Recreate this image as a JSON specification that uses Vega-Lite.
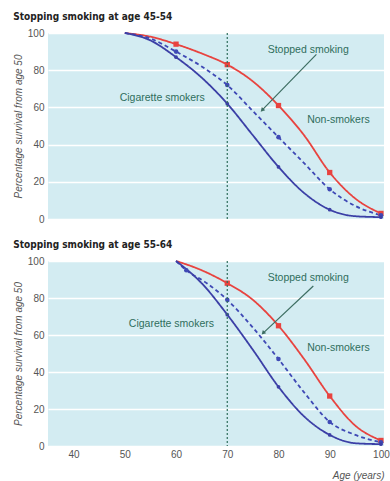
{
  "$schema": "https://vega.github.io/schema/vega-lite/v6.json",
  "padding": {"left": 13, "top": 12, "right": 4, "bottom": 2},
  "background": "white",
  "datasets": {
    "curves": [
      {"panel": "A", "series": "Non-smokers", "age": 50, "value": 100, "marker": false},
      {"panel": "A", "series": "Non-smokers", "age": 55, "value": 98, "marker": false},
      {"panel": "A", "series": "Non-smokers", "age": 60, "value": 94, "marker": true},
      {"panel": "A", "series": "Non-smokers", "age": 65, "value": 89, "marker": false},
      {"panel": "A", "series": "Non-smokers", "age": 70, "value": 83, "marker": true},
      {"panel": "A", "series": "Non-smokers", "age": 75, "value": 74, "marker": false},
      {"panel": "A", "series": "Non-smokers", "age": 80, "value": 61, "marker": true},
      {"panel": "A", "series": "Non-smokers", "age": 85, "value": 45, "marker": false},
      {"panel": "A", "series": "Non-smokers", "age": 90, "value": 25, "marker": true},
      {"panel": "A", "series": "Non-smokers", "age": 95, "value": 11, "marker": false},
      {"panel": "A", "series": "Non-smokers", "age": 100, "value": 3, "marker": true},
      {"panel": "A", "series": "Stopped smoking", "age": 50, "value": 100, "marker": false},
      {"panel": "A", "series": "Stopped smoking", "age": 55, "value": 97, "marker": false},
      {"panel": "A", "series": "Stopped smoking", "age": 60, "value": 90, "marker": true},
      {"panel": "A", "series": "Stopped smoking", "age": 65, "value": 82, "marker": false},
      {"panel": "A", "series": "Stopped smoking", "age": 70, "value": 72, "marker": true},
      {"panel": "A", "series": "Stopped smoking", "age": 75, "value": 58, "marker": false},
      {"panel": "A", "series": "Stopped smoking", "age": 80, "value": 44, "marker": true},
      {"panel": "A", "series": "Stopped smoking", "age": 85, "value": 30, "marker": false},
      {"panel": "A", "series": "Stopped smoking", "age": 90, "value": 16, "marker": true},
      {"panel": "A", "series": "Stopped smoking", "age": 95, "value": 7, "marker": false},
      {"panel": "A", "series": "Stopped smoking", "age": 100, "value": 2, "marker": true},
      {"panel": "A", "series": "Cigarette smokers", "age": 50, "value": 100, "marker": false},
      {"panel": "A", "series": "Cigarette smokers", "age": 55, "value": 96, "marker": false},
      {"panel": "A", "series": "Cigarette smokers", "age": 60, "value": 87, "marker": true},
      {"panel": "A", "series": "Cigarette smokers", "age": 65, "value": 76, "marker": false},
      {"panel": "A", "series": "Cigarette smokers", "age": 70, "value": 62, "marker": true},
      {"panel": "A", "series": "Cigarette smokers", "age": 75, "value": 45, "marker": false},
      {"panel": "A", "series": "Cigarette smokers", "age": 80, "value": 28, "marker": true},
      {"panel": "A", "series": "Cigarette smokers", "age": 85, "value": 14, "marker": false},
      {"panel": "A", "series": "Cigarette smokers", "age": 90, "value": 5, "marker": true},
      {"panel": "A", "series": "Cigarette smokers", "age": 95, "value": 1.5, "marker": false},
      {"panel": "A", "series": "Cigarette smokers", "age": 100, "value": 1, "marker": true},
      {"panel": "B", "series": "Non-smokers", "age": 60, "value": 100, "marker": false},
      {"panel": "B", "series": "Non-smokers", "age": 65, "value": 95, "marker": false},
      {"panel": "B", "series": "Non-smokers", "age": 70, "value": 88, "marker": true},
      {"panel": "B", "series": "Non-smokers", "age": 75, "value": 79, "marker": false},
      {"panel": "B", "series": "Non-smokers", "age": 80, "value": 65, "marker": true},
      {"panel": "B", "series": "Non-smokers", "age": 85, "value": 47, "marker": false},
      {"panel": "B", "series": "Non-smokers", "age": 90, "value": 27, "marker": true},
      {"panel": "B", "series": "Non-smokers", "age": 95, "value": 11, "marker": false},
      {"panel": "B", "series": "Non-smokers", "age": 100, "value": 3, "marker": true},
      {"panel": "B", "series": "Stopped smoking", "age": 60, "value": 100, "marker": false},
      {"panel": "B", "series": "Stopped smoking", "age": 62, "value": 95, "marker": true},
      {"panel": "B", "series": "Stopped smoking", "age": 66, "value": 88, "marker": false},
      {"panel": "B", "series": "Stopped smoking", "age": 70, "value": 79, "marker": true},
      {"panel": "B", "series": "Stopped smoking", "age": 75, "value": 64, "marker": false},
      {"panel": "B", "series": "Stopped smoking", "age": 80, "value": 47, "marker": true},
      {"panel": "B", "series": "Stopped smoking", "age": 85, "value": 29, "marker": false},
      {"panel": "B", "series": "Stopped smoking", "age": 90, "value": 13, "marker": true},
      {"panel": "B", "series": "Stopped smoking", "age": 95, "value": 6, "marker": false},
      {"panel": "B", "series": "Stopped smoking", "age": 100, "value": 2, "marker": true},
      {"panel": "B", "series": "Cigarette smokers", "age": 60, "value": 100, "marker": false},
      {"panel": "B", "series": "Cigarette smokers", "age": 65, "value": 88, "marker": false},
      {"panel": "B", "series": "Cigarette smokers", "age": 70, "value": 71, "marker": true},
      {"panel": "B", "series": "Cigarette smokers", "age": 75, "value": 52, "marker": false},
      {"panel": "B", "series": "Cigarette smokers", "age": 80, "value": 32, "marker": true},
      {"panel": "B", "series": "Cigarette smokers", "age": 85, "value": 16, "marker": false},
      {"panel": "B", "series": "Cigarette smokers", "age": 90, "value": 6, "marker": true},
      {"panel": "B", "series": "Cigarette smokers", "age": 95, "value": 1.5, "marker": false},
      {"panel": "B", "series": "Cigarette smokers", "age": 100, "value": 1, "marker": true}
    ],
    "labels": [
      {"panel": "A", "text": "Stopped smoking", "age": 85.8, "value": 91},
      {"panel": "A", "text": "Cigarette smokers", "age": 57.3, "value": 65},
      {"panel": "A", "text": "Non-smokers", "age": 91.7, "value": 53},
      {"panel": "B", "text": "Stopped smoking", "age": 85.8, "value": 91},
      {"panel": "B", "text": "Cigarette smokers", "age": 59.1, "value": 66},
      {"panel": "B", "text": "Non-smokers", "age": 91.7, "value": 53}
    ],
    "arrows": [
      {"panel": "A", "age": 87.4, "value": 88.5, "age2": 76.8, "value2": 58.5},
      {"panel": "B", "age": 86.8, "value": 86.5, "age2": 77.0, "value2": 61}
    ],
    "heads": [
      {"panel": "A", "age": 76.8, "value": 58.5},
      {"panel": "B", "age": 77.0, "value": 61}
    ]
  },
  "config": {
    "font": "Liberation Sans",
    "view": {"stroke": null, "fill": "#d3ecf2"},
    "axis": {
      "domain": false,
      "ticks": false,
      "labelColor": "#555555",
      "labelFontSize": 10,
      "titleColor": "#555555",
      "titleFontSize": 10,
      "titleFontWeight": "normal",
      "titleFontStyle": "italic"
    },
    "title": {"anchor": "start", "fontSize": 10, "font": "DejaVu Sans Condensed", "fontWeight": "bold", "color": "#222222", "offset": 6},
    "concat": {"spacing": 16}
  },
  "vconcat": [
    {
      "title": "Stopping smoking at age 45-54",
      "width": 336,
      "height": 186,
      "encoding": {
        "x": {"field": "age", "type": "quantitative", "scale": {"domain": [35, 100.6], "nice": false},
              "axis": {"labels": false, "grid": false, "title": null}},
        "y": {"field": "value", "type": "quantitative", "scale": {"domain": [0, 100], "nice": false},
              "axis": {"values": [0, 20, 40, 60, 80, 100], "labelOverlap": false, "gridColor": "white", "gridWidth": 1.5, "gridOpacity": 1, "labelPadding": 4, "titlePadding": 4, "title": "Percentage survival from age 50"}}
      },
      "layer": [
        {
          "data": {"name": "curves"},
          "transform": [{"filter": "datum.panel === 'A'"}],
          "mark": {"type": "line", "interpolate": "monotone", "strokeWidth": 1.8},
          "encoding": {
            "color": {"field": "series", "type": "nominal", "legend": null,
                      "scale": {"domain": ["Non-smokers", "Stopped smoking", "Cigarette smokers"], "range": ["#e8433f", "#3f49b5", "#3b3fa6"]}},
            "strokeDash": {"field": "series", "type": "nominal", "legend": null,
                           "scale": {"domain": ["Non-smokers", "Stopped smoking", "Cigarette smokers"], "range": [[1, 0], [4, 3], [1, 0]]}}
          }
        },
        {
          "data": {"name": "curves"},
          "transform": [{"filter": "datum.panel === 'A' && datum.marker"}],
          "mark": {"type": "point", "filled": true, "opacity": 1},
          "encoding": {
            "color": {"field": "series", "type": "nominal", "legend": null},
            "shape": {"field": "series", "type": "nominal", "legend": null,
                      "scale": {"domain": ["Non-smokers", "Stopped smoking", "Cigarette smokers"], "range": ["square", "circle", "circle"]}},
            "size": {"field": "series", "type": "nominal", "legend": null,
                     "scale": {"domain": ["Non-smokers", "Stopped smoking", "Cigarette smokers"], "range": [28, 14, 22]}}
          }
        },
        {
          "data": {"values": [{"age": 70}]},
          "mark": {"type": "rule", "color": "#2f6e5c", "strokeDash": [2, 2], "strokeWidth": 1.2},
          "encoding": {"y": {"value": 0}, "y2": {"value": 186}}
        },
        {
          "data": {"name": "arrows"},
          "transform": [{"filter": "datum.panel === 'A'"}],
          "mark": {"type": "rule", "color": "#3d6e62", "strokeWidth": 1.2},
          "encoding": {
            "x2": {"field": "age2"},
            "y2": {"field": "value2"}
          }
        },
        {
          "data": {"name": "heads"},
          "transform": [{"filter": "datum.panel === 'A'"}],
          "mark": {"type": "point", "shape": "triangle-up", "filled": true, "color": "#3d6e62", "size": 22, "angle": 224, "opacity": 1},
          "encoding": {}
        },
        {
          "data": {"name": "labels"},
          "transform": [{"filter": "datum.panel === 'A'"}],
          "mark": {"type": "text", "fontSize": 10.5, "color": "#2f6e5c", "align": "center", "baseline": "middle"},
          "encoding": {
            "text": {"field": "text"}
          }
        }
      ]
    },
    {
      "title": "Stopping smoking at age 55-64",
      "width": 336,
      "height": 185,
      "encoding": {
        "x": {"field": "age", "type": "quantitative", "scale": {"domain": [35, 100.6], "nice": false},
              "axis": {"values": [40, 50, 60, 70, 80, 90, 100], "labelOverlap": false, "grid": false, "labelPadding": 3, "title": "Age (years)", "titleAnchor": "end", "titlePadding": 11}},
        "y": {"field": "value", "type": "quantitative", "scale": {"domain": [0, 100], "nice": false},
              "axis": {"values": [0, 20, 40, 60, 80, 100], "labelOverlap": false, "gridColor": "white", "gridWidth": 1.5, "gridOpacity": 1, "labelPadding": 4, "titlePadding": 4, "title": "Percentage survival from age 50"}}
      },
      "layer": [
        {
          "data": {"name": "curves"},
          "transform": [{"filter": "datum.panel === 'B'"}],
          "mark": {"type": "line", "interpolate": "monotone", "strokeWidth": 1.8},
          "encoding": {
            "color": {"field": "series", "type": "nominal", "legend": null,
                      "scale": {"domain": ["Non-smokers", "Stopped smoking", "Cigarette smokers"], "range": ["#e8433f", "#3f49b5", "#3b3fa6"]}},
            "strokeDash": {"field": "series", "type": "nominal", "legend": null,
                           "scale": {"domain": ["Non-smokers", "Stopped smoking", "Cigarette smokers"], "range": [[1, 0], [4, 3], [1, 0]]}}
          }
        },
        {
          "data": {"name": "curves"},
          "transform": [{"filter": "datum.panel === 'B' && datum.marker"}],
          "mark": {"type": "point", "filled": true, "opacity": 1},
          "encoding": {
            "color": {"field": "series", "type": "nominal", "legend": null},
            "shape": {"field": "series", "type": "nominal", "legend": null,
                      "scale": {"domain": ["Non-smokers", "Stopped smoking", "Cigarette smokers"], "range": ["square", "circle", "circle"]}},
            "size": {"field": "series", "type": "nominal", "legend": null,
                     "scale": {"domain": ["Non-smokers", "Stopped smoking", "Cigarette smokers"], "range": [28, 14, 22]}}
          }
        },
        {
          "data": {"values": [{"age": 70}]},
          "mark": {"type": "rule", "color": "#2f6e5c", "strokeDash": [2, 2], "strokeWidth": 1.2},
          "encoding": {"y": {"value": 0}, "y2": {"value": 185}}
        },
        {
          "data": {"name": "arrows"},
          "transform": [{"filter": "datum.panel === 'B'"}],
          "mark": {"type": "rule", "color": "#3d6e62", "strokeWidth": 1.2},
          "encoding": {
            "x2": {"field": "age2"},
            "y2": {"field": "value2"}
          }
        },
        {
          "data": {"name": "heads"},
          "transform": [{"filter": "datum.panel === 'B'"}],
          "mark": {"type": "point", "shape": "triangle-up", "filled": true, "color": "#3d6e62", "size": 22, "angle": 224, "opacity": 1},
          "encoding": {}
        },
        {
          "data": {"name": "labels"},
          "transform": [{"filter": "datum.panel === 'B'"}],
          "mark": {"type": "text", "fontSize": 10.5, "color": "#2f6e5c", "align": "center", "baseline": "middle"},
          "encoding": {
            "text": {"field": "text"}
          }
        }
      ]
    }
  ]
}
